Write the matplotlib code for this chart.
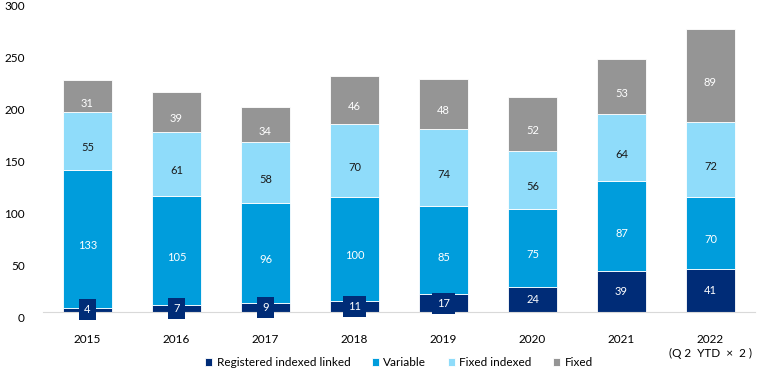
import matplotlib
matplotlib.use("Agg")
import matplotlib.pyplot as plt
import matplotlib.transforms as mtransforms
import numpy as np

years = ["2015", "2016", "2017", "2018", "2019", "2020", "2021", "2022\n(Q 2  YTD  \u00d7  2 )"]
series = ["Registered indexed linked", "Variable", "Fixed indexed", "Fixed"]
registered = [4, 7, 9, 11, 17, 24, 39, 41]
variable = [133, 105, 96, 100, 85, 75, 87, 70]
fixed_indexed = [55, 61, 58, 70, 74, 56, 64, 72]
fixed = [31, 39, 34, 46, 48, 52, 53, 89]

colors = ["#002C77", "#009DDC", "#8FDCFA", "#959595"]
label_colors = ["white", "white", "#1a1a1a", "white"]

plt.rcParams["font.family"] = ["Lato", "DejaVu Sans"]

fig = plt.figure(figsize=(7.72, 3.82), dpi=100)
ax = fig.add_axes([43 / 772, 70 / 382, 712 / 772, 312 / 382])

x = np.arange(len(years))
bottom = np.zeros(len(years))
data = [registered, variable, fixed_indexed, fixed]
for i, (name, vals) in enumerate(zip(series, data)):
    vals = np.array(vals, dtype=float)
    ax.bar(x, vals, 0.56, bottom=bottom, color=colors[i], label=name,
           edgecolor="white", linewidth=0.6)
    for xi, b, v in zip(x, bottom, vals):
        yc = b + v / 2
        if i == 0:
            if v < 20:
                ax.annotate(f"{int(v)}", (xi, yc), ha="center", va="center", fontsize=8,
                            color="white",
                            bbox=dict(boxstyle="square,pad=0.45", fc=colors[0], ec="none"))
            else:
                ax.annotate(f"{int(v)}", (xi, yc), ha="center", va="center", fontsize=8,
                            color="white")
        else:
            ax.annotate(f"{int(v)}", (xi, yc), xytext=(0, -5), textcoords="offset points",
                        ha="center", va="center", fontsize=8, color=label_colors[i])
    bottom += vals

ax.set_xlim(-0.5, 7.5)
ax.set_ylim(0, 300)
ax.set_yticks(range(0, 301, 50))
ax.set_xticks(x)
ax.set_xticklabels(years, fontsize=8.5, linespacing=1.25)
ax.tick_params(axis="y", labelsize=8.5, length=0, pad=13)
ax.tick_params(axis="x", length=0, pad=16)
# y labels sit a few pixels below their gridline in the original
shift = mtransforms.ScaledTranslation(0, -5 / 100, fig.dpi_scale_trans)
for lbl in ax.get_yticklabels():
    lbl.set_transform(lbl.get_transform() + shift)
for s in ["top", "right", "left"]:
    ax.spines[s].set_visible(False)
ax.spines["bottom"].set_color("#d9d9d9")
ax.spines["bottom"].set_linewidth(0.8)

ax.legend(loc="upper center", bbox_to_anchor=(0.5, -0.13), ncol=4, frameon=False,
          fontsize=8.5, handlelength=0.6, handleheight=0.6, handletextpad=0.4,
          columnspacing=1.8, borderaxespad=0)

fig.savefig("out.png", dpi=100)
